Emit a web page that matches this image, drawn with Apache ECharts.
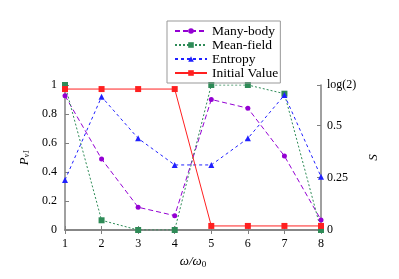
<!DOCTYPE html>
<html><head><meta charset="utf-8">
<script src="https://cdn.jsdelivr.net/npm/echarts@6/dist/echarts.min.js"></script>
<style>html,body{margin:0;padding:0;background:#fff}#c{width:399px;height:279px}</style>
</head><body><div id="c"></div>
<script>
const categories = [1, 2, 3, 4, 5, 6, 7, 8];
const manyBody = [0.926, 0.49, 0.157, 0.099, 0.90, 0.84, 0.51, 0.069];
const meanField = [1.0, 0.067, 0.0, 0.0, 1.0, 1.0, 0.94, 0.0];
const entropy = [0.239, 0.637, 0.438, 0.311, 0.311, 0.438, 0.645, 0.255];
const initialValue = [0.972, 0.972, 0.972, 0.972, 0.028, 0.028, 0.028, 0.028];
const leftTicks = [0, 0.2, 0.4, 0.6, 0.8, 1];
const rightTicks = [0, 0.25, 0.5, Math.LN2];

const font = 'Liberation Serif';
const gray = '#808080';
const pairs = a => a.map((v, i) => [categories[i], v]);

const chart = echarts.init(document.getElementById('c'));
chart.setOption({
  animation: false,
  textStyle: { fontFamily: font },
  legend: {
    orient: 'vertical', left: 167, top: 21,
    itemWidth: 32, itemHeight: 7, itemGap: 0,
    borderColor: '#999', borderWidth: 1, padding: [3, 2, 3, 7],
    textStyle: { fontFamily: font, fontSize: 13.5, color: '#000', lineHeight: 12.5 },
    data: ['Many-body', 'Mean-field', 'Entropy', 'Initial Value']
  },
  grid: { left: 65, right: 78, top: 85, bottom: 49 },
  xAxis: [{
    type: 'value', min: 1, max: 8, interval: 1,
    name: 'ω/ω{s|0}', nameLocation: 'middle', nameGap: 20,
    nameTextStyle: { fontFamily: font, fontSize: 13, fontStyle: 'italic', color: '#000',
      rich: { s: { fontSize: 9, fontStyle: 'normal', verticalAlign: 'bottom', padding: [6, 0, 0, 0] } } },
    axisLine: { lineStyle: { color: gray, width: 1.5 } },
    axisTick: { inside: true, length: 4, lineStyle: { color: gray } },
    axisLabel: { color: '#000', fontSize: 12, margin: 8 },
    splitLine: { show: false }
  }, {
    type: 'value', min: 1, max: 8, interval: 1, position: 'top',
    axisLine: { lineStyle: { color: gray, width: 1.5 } },
    axisTick: { inside: true, length: 4, lineStyle: { color: gray } },
    axisLabel: { show: false }, splitLine: { show: false }
  }],
  yAxis: [{
    type: 'value', min: 0, max: 1, interval: 0.2,
    name: 'P{s|ν1}', nameLocation: 'middle', nameGap: 28, nameRotate: 90,
    nameTextStyle: { fontFamily: font, fontSize: 13, fontStyle: 'italic', color: '#000',
      rich: { s: { fontSize: 8, verticalAlign: 'bottom', padding: [6, 0, 0, 0] } } },
    axisLine: { show: true, lineStyle: { color: gray, width: 1.5 } },
    axisTick: { inside: true, length: 4, lineStyle: { color: gray } },
    axisLabel: { color: '#000', fontSize: 12, margin: 8, formatter: v => String(+v.toFixed(1)) },
    splitLine: { show: false }
  }, {
    type: 'value', min: 0, max: Math.LN2, position: 'right',
    name: 'S', nameLocation: 'middle', nameGap: 38, nameRotate: 90,
    nameTextStyle: { fontFamily: font, fontSize: 13, fontStyle: 'italic', color: '#000' },
    axisLine: { show: true, lineStyle: { color: gray, width: 1.5 } },
    axisTick: { inside: true, length: 4, lineStyle: { color: gray }, customValues: rightTicks },
    axisLabel: { color: '#000', fontSize: 12, margin: 6, customValues: rightTicks,
      formatter: v => (v > 0.69 ? 'log(2)' : String(v)) },
    splitLine: { show: false }
  }],
  series: [{
    name: 'Many-body', type: 'line', data: pairs(manyBody),
    symbol: 'circle', symbolSize: 5, color: '#9400D3',
    lineStyle: { type: [5, 3], width: 1 }
  }, {
    name: 'Mean-field', type: 'line', data: pairs(meanField),
    symbol: 'rect', symbolSize: 6, color: '#2E8B57',
    lineStyle: { type: [2, 2], width: 1 }
  }, {
    name: 'Entropy', type: 'line', yAxisIndex: 1, data: pairs(entropy),
    symbol: 'triangle', symbolSize: 6, color: '#2020FF',
    lineStyle: { type: [3, 3], width: 1 }
  }, {
    name: 'Initial Value', type: 'line', data: pairs(initialValue),
    symbol: 'rect', symbolSize: 6, color: '#FF2020',
    lineStyle: { type: 'solid', width: 1 }
  }]
});
</script></body></html>
